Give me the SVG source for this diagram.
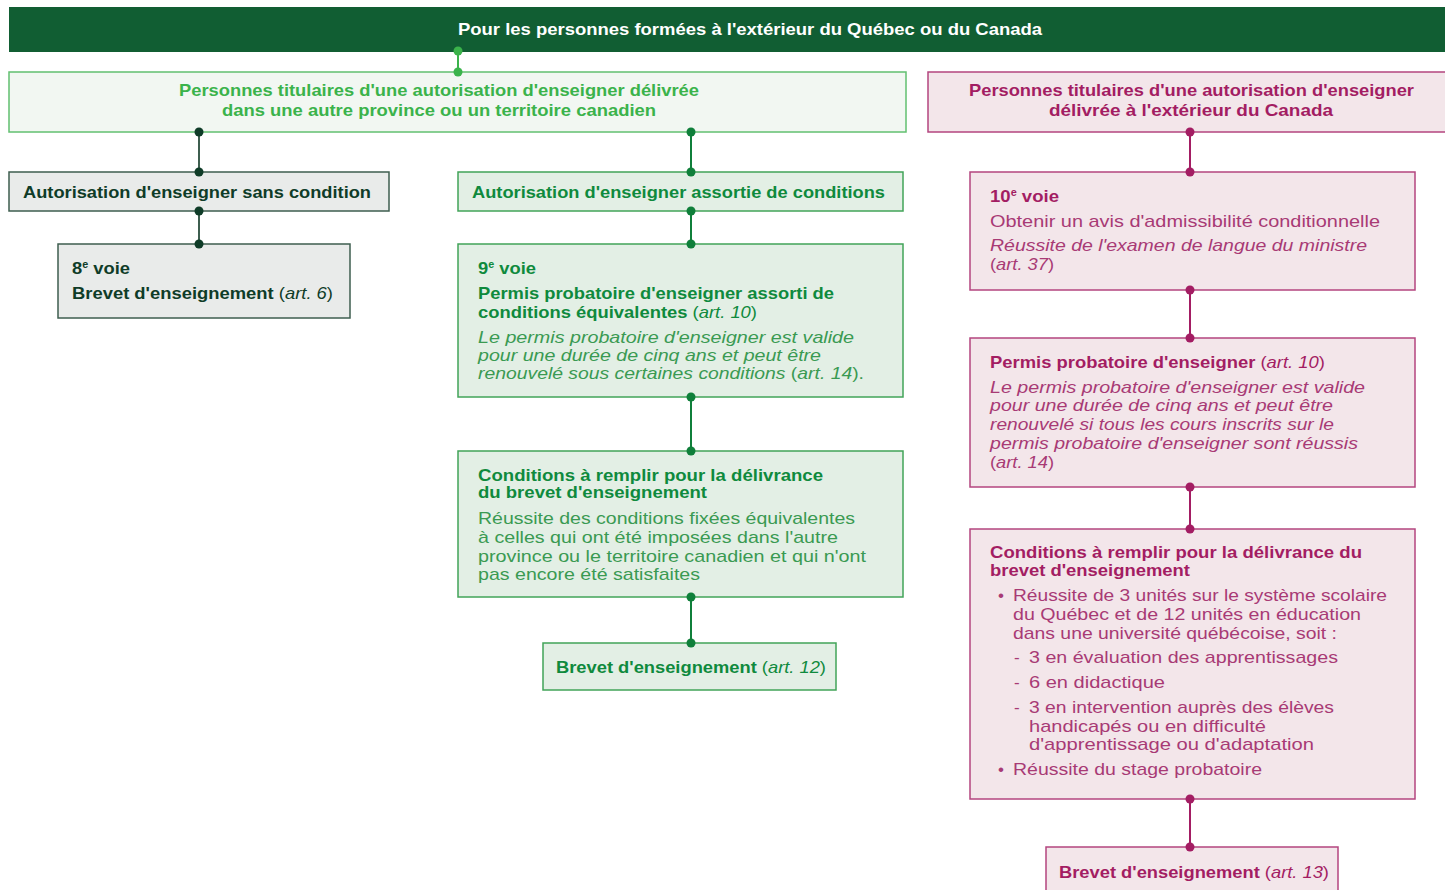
<svg xmlns="http://www.w3.org/2000/svg" width="1445" height="890" viewBox="0 0 1445 890">
<style>
text{font-family:"Liberation Sans",Arial,sans-serif;font-size:17px}
.b{font-weight:bold}
.i{font-style:italic}
.hdr{fill:#ffffff;font-weight:bold}
.lg{fill:#3bb34b;font-weight:bold}
.dk{fill:#0f3c28}
.mg{fill:#0f8a3d}
.mgl{fill:#3a9a52}
.pk{fill:#a31d63}
.pkl{fill:#a83a75}
.boxLG{fill:#f2f7f2;stroke:#62c070;stroke-width:1.5}
.boxDK{fill:#e9ebea;stroke:#3e5e4f;stroke-width:1.5}
.boxMG{fill:#e3efe5;stroke:#42a458;stroke-width:1.5}
.boxPK{fill:#f3e6ea;stroke:#b4457f;stroke-width:1.5}
.cLG{stroke:#3bb34b;stroke-width:2}
.cDK{stroke:#3e5e4f;stroke-width:2}
.cMG{stroke:#0f7f3a;stroke-width:2}
.cPK{stroke:#a31d63;stroke-width:2}
.dLG{fill:#3bb34b}
.dDK{fill:#0f3c28}
.dMG{fill:#0f7f3a}
.dPK{fill:#a31d63}
</style>

<g id="header">
<rect x="9" y="7" width="1441" height="45" fill="#115e33"/>
<text class="hdr" x="458" y="35" textLength="584" lengthAdjust="spacingAndGlyphs">Pour les personnes formées à l'extérieur du Québec ou du Canada</text>
</g>

<g id="node-canada">
<rect class="boxLG" x="9" y="72" width="897" height="60"/>
<text class="lg" x="179" y="96" textLength="520" lengthAdjust="spacingAndGlyphs">Personnes titulaires d'une autorisation d'enseigner délivrée</text>
<text class="lg" x="222" y="116" textLength="434" lengthAdjust="spacingAndGlyphs">dans une autre province ou un territoire canadien</text>
</g>

<g id="node-etranger">
<rect class="boxPK" x="928" y="72" width="530" height="60"/>
<text class="pk b" x="969" y="96" textLength="445" lengthAdjust="spacingAndGlyphs">Personnes titulaires d'une autorisation d'enseigner</text>
<text class="pk b" x="1049" y="116" textLength="284" lengthAdjust="spacingAndGlyphs">délivrée à l'extérieur du Canada</text>
</g>

<g id="node-sans-condition">
<rect class="boxDK" x="9" y="172" width="380" height="39"/>
<text class="dk b" x="23" y="198" textLength="348" lengthAdjust="spacingAndGlyphs">Autorisation d'enseigner sans condition</text>
</g>

<g id="node-voie8">
<rect class="boxDK" x="58" y="244" width="292" height="74"/>
<text class="dk b" x="72" y="274" textLength="58" lengthAdjust="spacingAndGlyphs">8<tspan font-size="10" dy="-6">e</tspan><tspan dy="6"> voie</tspan></text>
<text class="dk" x="72" y="299" textLength="261" lengthAdjust="spacingAndGlyphs"><tspan class="b">Brevet d'enseignement</tspan> (<tspan class="i">art. 6</tspan>)</text>
</g>

<g id="node-avec-conditions">
<rect class="boxMG" x="458" y="172" width="445" height="39"/>
<text class="mg b" x="472" y="198" textLength="413" lengthAdjust="spacingAndGlyphs">Autorisation d'enseigner assortie de conditions</text>
</g>

<g id="node-voie9">
<rect class="boxMG" x="458" y="244" width="445" height="153"/>
<text class="mg b" x="478" y="274" textLength="58" lengthAdjust="spacingAndGlyphs">9<tspan font-size="10" dy="-6">e</tspan><tspan dy="6"> voie</tspan></text>
<text class="mg b" x="478" y="299" textLength="356" lengthAdjust="spacingAndGlyphs">Permis probatoire d'enseigner assorti de</text>
<text class="mg" x="478" y="318" textLength="279" lengthAdjust="spacingAndGlyphs"><tspan class="b">conditions équivalentes</tspan> (<tspan class="i">art. 10</tspan>)</text>
<text class="mgl i" x="478" y="343" textLength="376" lengthAdjust="spacingAndGlyphs">Le permis probatoire d'enseigner est valide</text>
<text class="mgl i" x="478" y="361" textLength="343" lengthAdjust="spacingAndGlyphs">pour une durée de cinq ans et peut être</text>
<text class="mgl" x="478" y="379" textLength="386" lengthAdjust="spacingAndGlyphs"><tspan class="i">renouvelé sous certaines conditions</tspan> (<tspan class="i">art. 14</tspan>).</text>
</g>

<g id="node-conditions-canada">
<rect class="boxMG" x="458" y="451" width="445" height="146"/>
<text class="mg b" x="478" y="481" textLength="345" lengthAdjust="spacingAndGlyphs">Conditions à remplir pour la délivrance</text>
<text class="mg b" x="478" y="498" textLength="229" lengthAdjust="spacingAndGlyphs">du brevet d'enseignement</text>
<text class="mgl" x="478" y="524" textLength="377" lengthAdjust="spacingAndGlyphs">Réussite des conditions fixées équivalentes</text>
<text class="mgl" x="478" y="543" textLength="360" lengthAdjust="spacingAndGlyphs">à celles qui ont été imposées dans l'autre</text>
<text class="mgl" x="478" y="562" textLength="388" lengthAdjust="spacingAndGlyphs">province ou le territoire canadien et qui n'ont</text>
<text class="mgl" x="478" y="580" textLength="222" lengthAdjust="spacingAndGlyphs">pas encore été satisfaites</text>
</g>

<g id="node-brevet12">
<rect class="boxMG" x="543" y="643" width="293" height="47"/>
<text class="mg" x="556" y="673" textLength="270" lengthAdjust="spacingAndGlyphs"><tspan class="b">Brevet d'enseignement</tspan> (<tspan class="i">art. 12</tspan>)</text>
</g>

<g id="node-voie10">
<rect class="boxPK" x="970" y="172" width="445" height="118"/>
<text class="pk b" x="990" y="202" textLength="69" lengthAdjust="spacingAndGlyphs">10<tspan font-size="10" dy="-6">e</tspan><tspan dy="6"> voie</tspan></text>
<text class="pkl" x="990" y="227" textLength="390" lengthAdjust="spacingAndGlyphs">Obtenir un avis d'admissibilité conditionnelle</text>
<text class="pkl i" x="990" y="251" textLength="377" lengthAdjust="spacingAndGlyphs">Réussite de l'examen de langue du ministre</text>
<text class="pkl" x="990" y="270" textLength="64" lengthAdjust="spacingAndGlyphs">(<tspan class="i">art. 37</tspan>)</text>
</g>

<g id="node-permis-probatoire">
<rect class="boxPK" x="970" y="338" width="445" height="149"/>
<text class="pk" x="990" y="368" textLength="335" lengthAdjust="spacingAndGlyphs"><tspan class="b">Permis probatoire d'enseigner</tspan> (<tspan class="i">art. 10</tspan>)</text>
<text class="pkl i" x="990" y="393" textLength="375" lengthAdjust="spacingAndGlyphs">Le permis probatoire d'enseigner est valide</text>
<text class="pkl i" x="990" y="411" textLength="343" lengthAdjust="spacingAndGlyphs">pour une durée de cinq ans et peut être</text>
<text class="pkl i" x="990" y="430" textLength="344" lengthAdjust="spacingAndGlyphs">renouvelé si tous les cours inscrits sur le</text>
<text class="pkl i" x="990" y="449" textLength="368" lengthAdjust="spacingAndGlyphs">permis probatoire d'enseigner sont réussis</text>
<text class="pkl" x="990" y="468" textLength="64" lengthAdjust="spacingAndGlyphs">(<tspan class="i">art. 14</tspan>)</text>
</g>

<g id="node-conditions-etranger">
<rect class="boxPK" x="970" y="529" width="445" height="270"/>
<text class="pk b" x="990" y="558" textLength="372" lengthAdjust="spacingAndGlyphs">Conditions à remplir pour la délivrance du</text>
<text class="pk b" x="990" y="576" textLength="200" lengthAdjust="spacingAndGlyphs">brevet d'enseignement</text>
<text class="pkl" x="998" y="601">•</text>
<text class="pkl" x="1013" y="601" textLength="374" lengthAdjust="spacingAndGlyphs">Réussite de 3 unités sur le système scolaire</text>
<text class="pkl" x="1013" y="620" textLength="348" lengthAdjust="spacingAndGlyphs">du Québec et de 12 unités en éducation</text>
<text class="pkl" x="1013" y="639" textLength="324" lengthAdjust="spacingAndGlyphs">dans une université québécoise, soit :</text>
<text class="pkl" x="1014" y="663">-</text>
<text class="pkl" x="1029" y="663" textLength="309" lengthAdjust="spacingAndGlyphs">3 en évaluation des apprentissages</text>
<text class="pkl" x="1014" y="688">-</text>
<text class="pkl" x="1029" y="688" textLength="136" lengthAdjust="spacingAndGlyphs">6 en didactique</text>
<text class="pkl" x="1014" y="713">-</text>
<text class="pkl" x="1029" y="713" textLength="305" lengthAdjust="spacingAndGlyphs">3 en intervention auprès des élèves</text>
<text class="pkl" x="1029" y="732" textLength="237" lengthAdjust="spacingAndGlyphs">handicapés ou en difficulté</text>
<text class="pkl" x="1029" y="750" textLength="285" lengthAdjust="spacingAndGlyphs">d'apprentissage ou d'adaptation</text>
<text class="pkl" x="998" y="775">•</text>
<text class="pkl" x="1013" y="775" textLength="249" lengthAdjust="spacingAndGlyphs">Réussite du stage probatoire</text>
</g>

<g id="node-brevet13">
<rect class="boxPK" x="1046" y="847" width="292" height="60"/>
<text class="pk" x="1059" y="878" textLength="270" lengthAdjust="spacingAndGlyphs"><tspan class="b">Brevet d'enseignement</tspan> (<tspan class="i">art. 13</tspan>)</text>
</g>

<g id="connectors">
<line class="cLG" x1="458" y1="51" x2="458" y2="72"/>
<circle class="dLG" cx="458" cy="51" r="4.5"/>
<circle class="dLG" cx="458" cy="72" r="4.5"/>

<line class="cDK" x1="199" y1="132" x2="199" y2="172"/>
<circle class="dDK" cx="199" cy="132" r="4.5"/>
<circle class="dDK" cx="199" cy="172" r="4.5"/>
<line class="cDK" x1="199" y1="211" x2="199" y2="244"/>
<circle class="dDK" cx="199" cy="211" r="4.5"/>
<circle class="dDK" cx="199" cy="244" r="4.5"/>

<line class="cMG" x1="691" y1="132" x2="691" y2="172"/>
<circle class="dMG" cx="691" cy="132" r="4.5"/>
<circle class="dMG" cx="691" cy="172" r="4.5"/>
<line class="cMG" x1="691" y1="211" x2="691" y2="244"/>
<circle class="dMG" cx="691" cy="211" r="4.5"/>
<circle class="dMG" cx="691" cy="244" r="4.5"/>
<line class="cMG" x1="691" y1="397" x2="691" y2="451"/>
<circle class="dMG" cx="691" cy="397" r="4.5"/>
<circle class="dMG" cx="691" cy="451" r="4.5"/>
<line class="cMG" x1="691" y1="597" x2="691" y2="643"/>
<circle class="dMG" cx="691" cy="597" r="4.5"/>
<circle class="dMG" cx="691" cy="643" r="4.5"/>

<line class="cPK" x1="1190" y1="132" x2="1190" y2="172"/>
<circle class="dPK" cx="1190" cy="132" r="4.5"/>
<circle class="dPK" cx="1190" cy="172" r="4.5"/>
<line class="cPK" x1="1190" y1="290" x2="1190" y2="338"/>
<circle class="dPK" cx="1190" cy="290" r="4.5"/>
<circle class="dPK" cx="1190" cy="338" r="4.5"/>
<line class="cPK" x1="1190" y1="487" x2="1190" y2="529"/>
<circle class="dPK" cx="1190" cy="487" r="4.5"/>
<circle class="dPK" cx="1190" cy="529" r="4.5"/>
<line class="cPK" x1="1190" y1="799" x2="1190" y2="847"/>
<circle class="dPK" cx="1190" cy="799" r="4.5"/>
<circle class="dPK" cx="1190" cy="847" r="4.5"/>
</g>
</svg>
